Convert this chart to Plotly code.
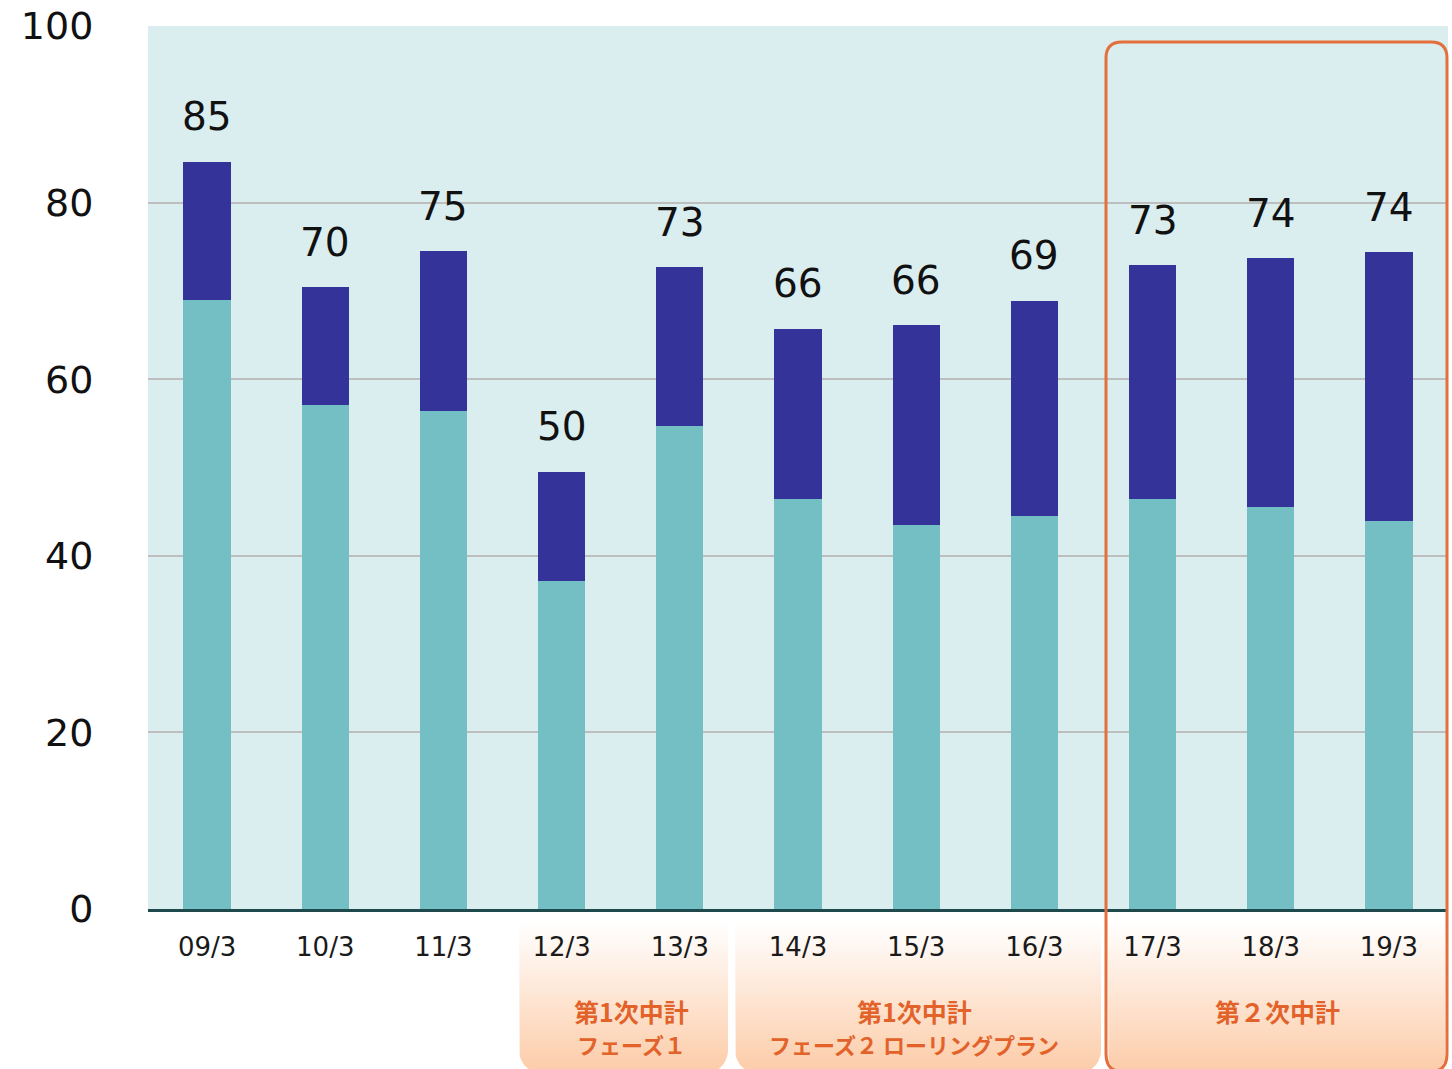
import numpy as np
import plotly.graph_objects as go

# ---- data ----
categories = ["09/3", "10/3", "11/3", "12/3", "13/3", "14/3", "15/3", "16/3", "17/3", "18/3", "19/3"]
lower_part = [69.0, 57.1, 56.4, 37.1, 54.7, 46.4, 43.5, 44.5, 46.4, 45.5, 43.9]
upper_part = [15.6, 13.3, 18.1, 12.4, 18.0, 19.3, 22.6, 24.4, 26.5, 28.2, 30.5]
total_labels = [85, 70, 75, 50, 73, 66, 66, 69, 73, 74, 74]
y_ticks = [0, 20, 40, 60, 80, 100]

period_line1 = ["第1次中計", "第1次中計", "第２次中計"]
period_line2 = ["フェーズ１", "フェーズ２ ローリングプラン", ""]

W, H = 1452, 1069
TEAL = "#73BFC4"
NAVY = "#333399"
BG = "#DAEDEF"
ORANGE = "#E2622A"
PEACH = "#FCCDAA"

fig = go.Figure()

# ---- decoration layer (pixel coordinate subplot, drawn beneath the chart) ----
def rounded_bottom(x0, x1, ytop, ybot, r, n=14):
    xs, ys = [x0], [ytop]
    th = np.linspace(np.pi, np.pi / 2, n)
    xs += list(x0 + r + r * np.cos(th)); ys += list(ybot - r + r * np.sin(th))
    th = np.linspace(np.pi / 2, 0, n)
    xs += list(x1 - r + r * np.cos(th)); ys += list(ybot - r + r * np.sin(th))
    xs += [x1, x0]; ys += [ytop, ytop]
    return xs, ys

boxes = [(519, 728, 914, 1074, 24), (735, 1101, 914, 1074, 24), (1108, 1445, 913, 1072, 16)]
for (x0, x1, yt, yb, r) in boxes:
    xs, ys = rounded_bottom(x0, x1, yt, yb, r)
    fig.add_trace(go.Scatter(
        x=xs, y=ys, xaxis="x", yaxis="y", mode="lines", fill="toself",
        line=dict(width=0, color="rgba(0,0,0,0)"),
        fillgradient=dict(type="vertical", colorscale=[[0, "#FFFFFF"], [1, PEACH]],
                          start=yt + 8, stop=1069),
        hoverinfo="skip", showlegend=False))

# ---- bars ----
fig.add_trace(go.Bar(x=categories, y=lower_part, xaxis="x2", yaxis="y2",
                     marker=dict(color=TEAL, line=dict(width=0)), showlegend=False))
fig.add_trace(go.Bar(x=categories, y=upper_part, xaxis="x2", yaxis="y2",
                     marker=dict(color=NAVY, line=dict(width=0)), showlegend=False))

annotations = []
for c, lo, up, lab in zip(categories, lower_part, upper_part, total_labels):
    annotations.append(dict(x=c, y=lo + up, xref="x2", yref="y2", text=str(lab),
                            showarrow=False, yanchor="middle", yshift=45,
                            font=dict(family="DejaVu Sans", size=39, color="#111111")))

# period labels (pixel coords)
label_pos = [(631, 1011, 1044), (914, 1011, 1044), (1277, 1011, None)]
for (cx, y1, y2), t1, t2 in zip(label_pos, period_line1, period_line2):
    annotations.append(dict(x=cx, y=y1, xref="x", yref="y", text="<b>%s</b>" % t1,
                            showarrow=False, font=dict(family="Noto Sans CJK JP", size=25, color=ORANGE)))
    if t2:
        annotations.append(dict(x=cx, y=y2, xref="x", yref="y", text="<b>%s</b>" % t2,
                                showarrow=False, font=dict(family="Noto Sans CJK JP", size=22, color=ORANGE)))

shapes = [
    dict(type="rect", xref="x2 domain", yref="y2 domain", x0=0, x1=1, y0=0, y1=1,
         fillcolor=BG, line=dict(width=0), layer="below"),
    dict(type="path", xref="x", yref="y",
         path="M 1106,1054 L 1106,58 Q 1106,42 1122,42 L 1431,42 Q 1447,42 1447,58 "
              "L 1447,1054 Q 1447,1072 1429,1072 L 1124,1072 Q 1106,1072 1106,1054 Z",
         line=dict(color="#E3703C", width=3), fillcolor="rgba(0,0,0,0)", layer="above"),
]

fig.update_layout(
    width=W, height=H, autosize=False,
    margin=dict(l=0, r=0, t=0, b=0, pad=0, autoexpand=False),
    paper_bgcolor="white", plot_bgcolor="rgba(0,0,0,0)",
    barmode="stack", bargap=0.6,
    showlegend=False,
    annotations=annotations, shapes=shapes,
    xaxis=dict(domain=[0, 1], range=[0, W], visible=False, fixedrange=True, automargin=False),
    yaxis=dict(domain=[0, 1], range=[H, 0], visible=False, fixedrange=True, automargin=False),
    xaxis2=dict(domain=[148 / W, 1448 / W], anchor="y2", type="category",
                range=[-0.5, len(categories) - 0.5], automargin=False,
                showgrid=False, zeroline=False,
                showline=True, linecolor="#1E4A4D", linewidth=3,
                ticks="outside", ticklen=13, tickcolor="rgba(0,0,0,0)",
                tickfont=dict(family="DejaVu Sans", size=26, color="#1a1a1a")),
    yaxis2=dict(domain=[(H - 909) / H, (H - 26) / H], anchor="x2", automargin=False,
                range=[0, 100], tickvals=y_ticks,
                showgrid=True, gridcolor="#BEBEBE", gridwidth=2, zeroline=False,
                showline=False,
                ticks="outside", ticklen=46, tickcolor="rgba(0,0,0,0)",
                tickfont=dict(family="DejaVu Sans", size=38, color="#111111")),
)

fig.write_html("out.html",
               config={"responsive": False, "displayModeBar": False},
               post_script="document.body.style.margin='0';document.body.style.overflow='hidden';")
